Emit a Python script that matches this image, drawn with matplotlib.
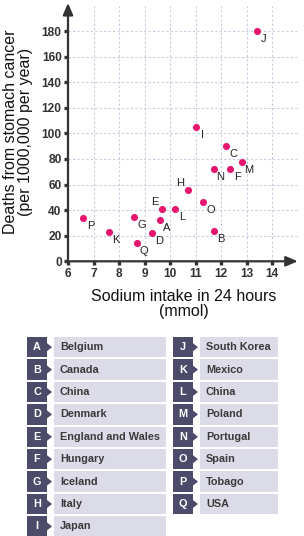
import matplotlib
matplotlib.use("Agg")
import matplotlib.pyplot as plt
from matplotlib.patches import Rectangle, Polygon

plt.rcParams["font.family"] = ["Liberation Sans", "DejaVu Sans"]

# data
letters = ["A", "B", "C", "D", "E", "F", "G", "H", "I",
           "J", "K", "L", "M", "N", "O", "P", "Q"]
sodium = [9.6, 11.7, 12.2, 9.3, 9.7, 12.35, 8.6, 10.7, 11.0,
          13.4, 7.6, 10.2, 12.8, 11.7, 11.3, 6.6, 8.7]
deaths = [32, 24, 90, 22, 41, 72, 35, 56, 105,
          180, 23, 41, 78, 72, 46, 34, 14]
countries = ["Belgium", "Canada", "China", "Denmark", "England and Wales",
             "Hungary", "Iceland", "Italy", "Japan",
             "South Korea", "Mexico", "China", "Poland", "Portugal",
             "Spain", "Tobago", "USA"]
x_ticks = [6, 7, 8, 9, 10, 11, 12, 13, 14]
y_ticks = [0, 20, 40, 60, 80, 100, 120, 140, 160, 180]

# labels that sit up-left of their point instead of down-right
up_left = ["E", "H"]

W, H = 304, 536
fig = plt.figure(figsize=(W / 100, H / 100), dpi=100)

dark = "#333333"
pink = "#e6166e"
gridc = "#c9c9e0"

ax = fig.add_axes([68 / W, 1 - 261.3 / H, 229.8 / W, 255.8 / H])
ax.set_xlim(6, 15)
ax.set_ylim(0, 200)
for s in ax.spines.values():
    s.set_visible(False)

for xv in x_ticks[1:] + [15]:
    ax.axvline(xv, color=gridc, lw=0.8, ls=(0, (2, 2)), zorder=0)
for yv in y_ticks[1:]:
    ax.axhline(yv, color=gridc, lw=0.8, ls=(0, (2, 2)), zorder=0)

ax.annotate("", xy=(1.0, 0), xytext=(0, 0), xycoords="axes fraction",
            arrowprops=dict(arrowstyle="-|>,head_length=0.7,head_width=0.3",
                            color=dark, lw=1.6, shrinkA=0, shrinkB=0),
            annotation_clip=False)
ax.annotate("", xy=(0, 1.01), xytext=(0, 0), xycoords="axes fraction",
            arrowprops=dict(arrowstyle="-|>,head_length=0.7,head_width=0.3",
                            color=dark, lw=1.6, shrinkA=0, shrinkB=0),
            annotation_clip=False)

ax.set_xticks(x_ticks)
ax.set_yticks(y_ticks)
ax.tick_params(length=3, width=2.4, color=dark, labelcolor=dark,
               labelsize=8.6, pad=1.5)
for lab in ax.get_xticklabels() + ax.get_yticklabels():
    lab.set_fontweight("bold")

ax.scatter(sodium, deaths, s=26, color=pink, zorder=3, linewidths=0)
for l, xv, yv in zip(letters, sodium, deaths):
    off = (-8, 7) if l in up_left else (7, -8)
    ax.annotate(l, (xv, yv), xytext=off, textcoords="offset pixels",
                ha="center", va="center", fontsize=8, color="#222222")

fig.text(18 / W, 1 - 132 / H,
         "Deaths from stomach cancer\n(per 1000,000 per year)",
         rotation=90, ha="center", va="center", multialignment="center",
         fontsize=11.5, color="#111111", linespacing=1.05)
fig.text(184 / W, 1 - 304 / H, "Sodium intake in 24 hours\n(mmol)",
         ha="center", va="center", multialignment="center",
         fontsize=11.5, color="#111111", linespacing=1.05)

# key table
kx = fig.add_axes([0, 0, 1, 1])
kx.set_xlim(0, W)
kx.set_ylim(H, 0)
kx.axis("off")
kx.patch.set_alpha(0)

slate = "#4c4c6a"
lav = "#dcdce9"
cols = [(27, 166), (173, 278)]
for i, (l, name) in enumerate(zip(letters, countries)):
    c = 0 if i < 9 else 1
    r = i if i < 9 else i - 9
    x0, x1 = cols[c]
    y0 = 337 + r * 22.4
    h = 20.4
    kx.add_patch(Rectangle((x0, y0), 20, h, color=slate, lw=0))
    kx.add_patch(Polygon([(x0 + 20, y0 + h / 2 - 4), (x0 + 25, y0 + h / 2),
                          (x0 + 20, y0 + h / 2 + 4)], color=slate, lw=0))
    kx.add_patch(Rectangle((x0 + 27, y0), x1 - x0 - 27, h, color=lav, lw=0))
    kx.text(x0 + 10, y0 + h / 2, l, ha="center", va="center",
            color="white", fontsize=7.8, fontweight="bold")
    kx.text(x0 + 33, y0 + h / 2, name, ha="left", va="center",
            color="#3a3a3a", fontsize=7.8, fontweight="bold")

fig.savefig("out.png", dpi=100)
